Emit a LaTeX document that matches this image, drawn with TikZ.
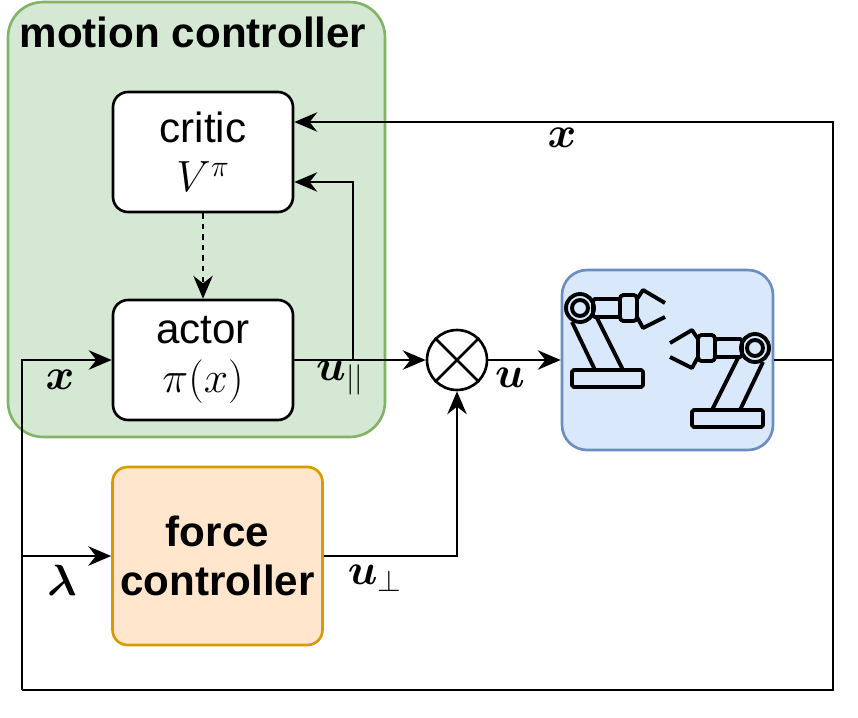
\documentclass[tikz,border=0pt]{standalone}
\usepackage{amsmath,bm}
\usepackage{fontspec}
\setmainfont{Liberation Sans}
\usetikzlibrary{arrows.meta}
\definecolor{mgreen}{HTML}{D5E8D4}\definecolor{dgreen}{HTML}{82B366}
\definecolor{mblue}{HTML}{DAE8FC}\definecolor{dblue}{HTML}{6C8EBF}
\definecolor{morange}{HTML}{FFE6CC}\definecolor{dorange}{HTML}{D79B00}
\tikzset{
  blk/.style={draw, line width=1.5pt, rounded corners=0.3cm, minimum width=3.6cm, minimum height=2.4cm, align=center, font=\fontsize{24}{28}\selectfont},
  sig/.style={line width=1.5pt, -{Stealth[length=13pt,width=11pt]}},
  lbl/.style={font=\fontsize{23}{26}\selectfont},
  robot/.pic={
    \draw (0,0) circle (14) (0,0) circle (8);
    \draw[rounded corners=1] (13,-9) rectangle (40,9);
    \draw[rounded corners=2] (40,-13) rectangle (57,13);
    \draw (57,-9) -- (63,-18) -- (85,-5) (57,9) -- (63,20) -- (85,9);
    \draw (-8,14) -- (15,62) (17,10) -- (43,62);
    \draw[rounded corners=1] (-8,62) rectangle (63,79);
  }
}
\begin{document}
\begin{tikzpicture}[x=0.02cm, y=-0.02cm]
\useasboundingbox (0,0) rectangle (858,717);

% motion controller
\node[draw=dgreen, fill=mgreen, line width=1.5pt, rounded corners=0.7cm, minimum width=7.54cm, minimum height=8.7cm] (mc) at (196.5,219.5) {};
\node[font=\bfseries\fontsize{24}{28}\selectfont] (mctitle) at (193,32) {motion controller};

\node[blk, fill=white] (critic) at (203,152) {critic\\[0pt]$V^{\pi}$};
\node[blk, fill=white] (actor) at (203,360) {actor\\[0pt]$\pi(x)$};
\node[blk, fill=morange, draw=dorange, minimum width=4.2cm, minimum height=3.56cm, font=\bfseries\fontsize{24}{28}\selectfont] (force) at (217.5,556) {force\\controller};
\node[draw=dblue, fill=mblue, line width=1.5pt, rounded corners=0.5cm, minimum width=4.22cm, minimum height=3.6cm] (plant) at (667.5,360) {};
\node[draw, circle, line width=1.5pt, minimum size=1.2cm, inner sep=0pt] (mult) at (457,360) {};
\draw[line width=1.5pt] (mult.north west) -- (mult.south east) (mult.north east) -- (mult.south west);

% robots
\begin{scope}[line width=2.2pt, line join=round]
\pic (rob1) at (580,308) {robot};
\pic[xscale=-1] (rob2) at (755,348) {robot};
\end{scope}

% coordinates
\coordinate (split) at (353,360);
\coordinate (out) at (833,360);
\coordinate (fb) at (22,690);
\coordinate (fbf) at (22,556);

% signals
\draw[sig, dashed] (critic) -- (actor);
\draw[sig] (actor) -- (mult);
\draw[sig] (split) |- ([yshift=-0.6cm]critic.east);
\draw[sig] (mult) -- (plant);
\draw[sig] (plant.east) -- (out) |- ([yshift=0.6cm]critic.east);
\draw[line width=1.5pt] (out) |- (fb);
\draw[sig] (fb) |- (actor.west);
\draw[sig] (fbf) -- (force.west);
\draw[sig] (force.east) -| (mult.south);

% labels
\node[lbl] (lx1) at (562,138) {$\bm{x}$};
\node[lbl] (lx2) at (60,380) {$\bm{x}$};
\node[lbl] (lupar) at (340,378) {$\bm{u}_{||}$};
\node[lbl] (lu) at (510,378) {$\bm{u}$};
\node[lbl] (llam) at (62,580) {$\bm{\lambda}$};
\node[lbl] (luperp) at (375,578) {$\bm{u}_{\perp}$};
\end{tikzpicture}
\end{document}
